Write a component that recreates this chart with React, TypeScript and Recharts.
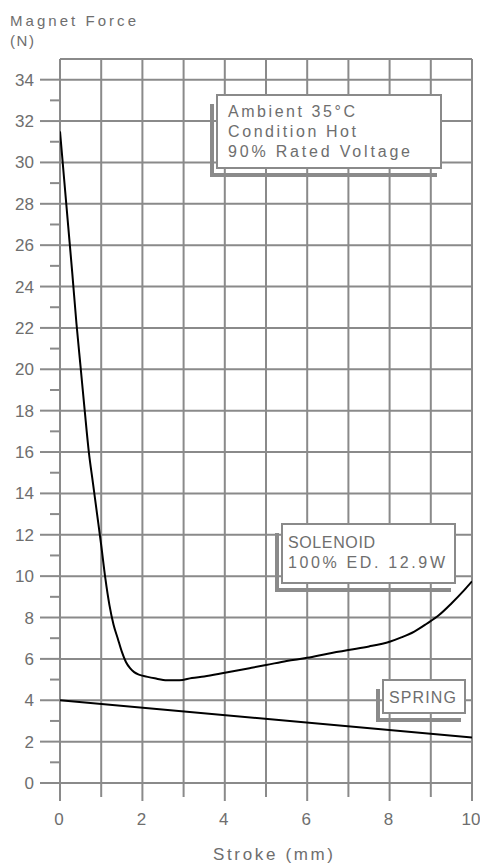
import React from 'react';
import { LineChart, Line, XAxis, YAxis, CartesianGrid } from 'recharts';

// Solenoid magnet force curve (stroke in mm, force in N)
const solenoidStroke = [0, 0.1, 0.2, 0.3, 0.4, 0.5, 0.6, 0.7, 0.8, 0.9, 1.0, 1.1, 1.2, 1.3, 1.4, 1.5, 1.6, 1.7, 1.8, 1.9, 2.0, 2.3, 2.6, 2.9, 3.2, 3.5, 4.0, 4.6, 5.0, 5.5, 6.0, 6.5, 7.0, 7.5, 8.0, 8.3, 8.6, 8.9, 9.2, 9.5, 9.8, 10.0];
const solenoidForce = [31.5, 29.2, 26.9, 24.6, 22.2, 20.1, 18.0, 16.0, 14.5, 13.0, 11.5, 9.9, 8.6, 7.65, 7.0, 6.35, 5.85, 5.55, 5.36, 5.25, 5.19, 5.06, 4.97, 4.97, 5.08, 5.15, 5.33, 5.55, 5.7, 5.9, 6.05, 6.25, 6.43, 6.6, 6.83, 7.05, 7.32, 7.7, 8.12, 8.68, 9.3, 9.75];

// Return spring force
const springStroke = [0, 10];
const springForce = [4.0, 2.2];

// Axis ticks
const xTicks = [0, 1, 2, 3, 4, 5, 6, 7, 8, 9, 10];
const yTicks = Array.from({ length: 35 }, (_, i) => i);
const yGridValues = [0, 2, 4, 6, 8, 10, 12, 14, 16, 18, 20, 22, 24, 26, 28, 30, 32, 34, 35];

const yAxisTitle = ['Magnet Force', '(N)'];
const xAxisTitle = 'Stroke (mm)';
const noteConditions = ['Ambient 35°C', 'Condition Hot', '90% Rated Voltage'];
const noteSolenoid = ['SOLENOID', '100% ED. 12.9W'];
const noteSpring = ['SPRING'];

const solenoidData = solenoidStroke.map((x, i) => ({ x, y: solenoidForce[i] }));
const springData = springStroke.map((x, i) => ({ x, y: springForce[i] }));

const GRID = '#8a8a8a';
const TEXT = '#6e6e6e';
const FONT = '"Liberation Sans", Arial, sans-serif';

const XTick = (props: any) => {
  const { x, y, payload } = props;
  const v = payload.value;
  const major = v % 2 === 0;
  return (
    <g>
      <line x1={x} x2={x} y1={y} y2={y + (major ? 18 : 14)} stroke={GRID} strokeWidth={2} />
      {major && (
        <text x={x - 1} y={y + 42} textAnchor="middle" fill={TEXT} fontSize={17} fontFamily={FONT}>
          {v}
        </text>
      )}
    </g>
  );
};

const YTick = (props: any) => {
  const { x, y, payload } = props;
  const v = payload.value;
  const major = v % 2 === 0;
  return (
    <g>
      <line x1={x - (major ? 20 : 10)} x2={x} y1={y} y2={y} stroke={GRID} strokeWidth={2} />
      {major && (
        <text x={x - 26} y={y + 6} textAnchor="end" fill={TEXT} fontSize={17} fontFamily={FONT}>
          {v}
        </text>
      )}
    </g>
  );
};

type Note = { lines: string[]; x: number; y: number; w: number; h: number; tx: number; base: number; step: number; widths: number[] };

const notes: Note[] = [
  { lines: noteConditions, x: 217, y: 95, w: 224, h: 73, tx: 228, base: 117, step: 20, widths: [127, 128, 182] },
  { lines: noteSolenoid, x: 282, y: 524, w: 173, h: 59, tx: 288, base: 548, step: 20, widths: [87, 157] },
  { lines: noteSpring, x: 383, y: 680, w: 82, h: 33, tx: 389, base: 703, step: 20, widths: [67] },
];

const Overlay = () => (
  <svg width={480} height={863} style={{ position: 'absolute', left: 0, top: 0, pointerEvents: 'none' }}>
    <text x={10} y={26} fill={TEXT} fontSize={15} fontFamily={FONT} textLength={126} lengthAdjust="spacing">
      {yAxisTitle[0]}
    </text>
    <text x={10} y={46} fill={TEXT} fontSize={15} fontFamily={FONT} textLength={24} lengthAdjust="spacing">
      {yAxisTitle[1]}
    </text>
    <text x={213} y={860} fill={TEXT} fontSize={17} fontFamily={FONT} textLength={120} lengthAdjust="spacing">
      {xAxisTitle}
    </text>
    {notes.map((n, i) => (
      <g key={i}>
        <polyline
          points={`${n.x - 5},${n.y + 9} ${n.x - 5},${n.y + n.h + 7} ${n.x + n.w - 4},${n.y + n.h + 7}`}
          fill="none"
          stroke={GRID}
          strokeWidth={4}
        />
        <rect x={n.x} y={n.y} width={n.w} height={n.h} fill="#fff" stroke={GRID} strokeWidth={2} />
        {n.lines.map((t, j) => (
          <text
            key={j}
            x={n.tx}
            y={n.base + j * n.step}
            fill={TEXT}
            fontSize={16}
            fontFamily={FONT}
            textLength={n.widths[j]}
            lengthAdjust="spacing"
          >
            {t}
          </text>
        ))}
      </g>
    ))}
  </svg>
);

export default function App() {
  return (
    <div style={{ position: 'absolute', left: 0, top: 0, width: 480, height: 863, background: '#fff' }}>
      <LineChart width={480} height={863} margin={{ top: 59, right: 8, bottom: 0, left: 0 }}>
        <CartesianGrid
          stroke={GRID}
          strokeWidth={2}
          horizontalValues={yGridValues}
          verticalValues={xTicks}
        />
        <XAxis
          dataKey="x"
          type="number"
          domain={[0, 10]}
          ticks={xTicks}
          interval={0}
          height={80}
          axisLine={false}
          tickLine={false}
          tickSize={0}
          tickMargin={0}
          tick={<XTick />}
          allowDataOverflow
        />
        <YAxis
          type="number"
          domain={[0, 35]}
          ticks={yTicks}
          interval={0}
          width={60}
          axisLine={false}
          tickLine={false}
          tickSize={0}
          tickMargin={0}
          tick={<YTick />}
          allowDataOverflow
        />
        <Line data={springData} dataKey="y" type="linear" stroke="#000" strokeWidth={2} dot={false} isAnimationActive={false} />
        <Line data={solenoidData} dataKey="y" type="monotone" stroke="#000" strokeWidth={2} dot={false} isAnimationActive={false} />
      </LineChart>
      <Overlay />
    </div>
  );
}
